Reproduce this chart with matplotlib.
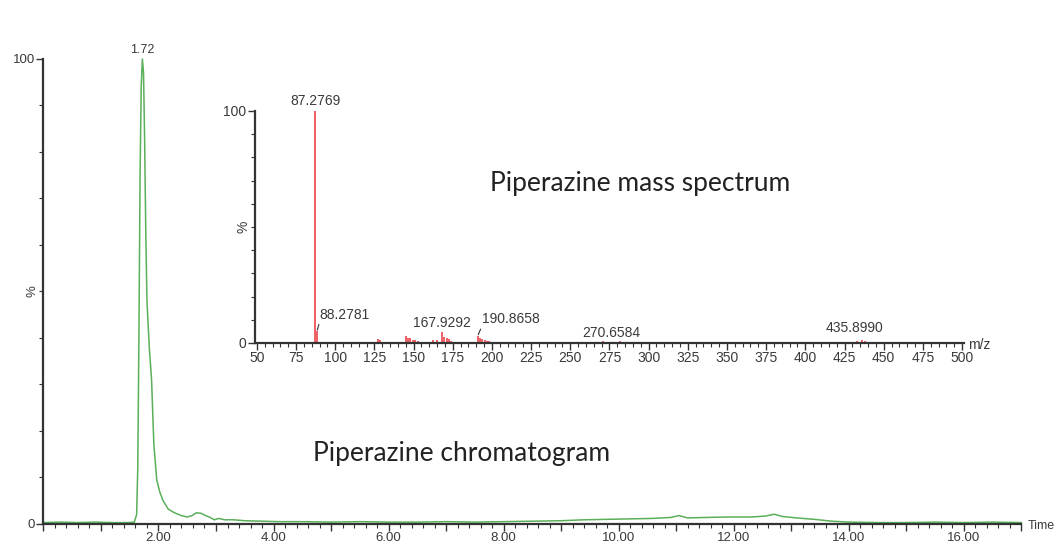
import matplotlib.pyplot as plt
from matplotlib.ticker import MultipleLocator, FuncFormatter

# chromatogram: retention time (min) vs relative intensity (%)
rt = [0.00, 0.30, 0.60, 0.90, 1.20, 1.45, 1.58, 1.62, 1.64, 1.66, 1.68, 1.70,
      1.72, 1.74, 1.76, 1.78, 1.80, 1.84, 1.88, 1.92, 1.97, 2.02, 2.08, 2.17,
      2.28, 2.40, 2.50, 2.58, 2.66, 2.74, 2.82, 2.90, 2.97, 3.05, 3.15, 3.30,
      3.50, 3.80, 4.10, 4.50, 5.00, 5.50, 6.00, 6.50, 7.00, 7.50, 8.00, 8.50,
      9.00, 9.40, 9.80, 10.20, 10.60, 10.90, 11.05, 11.20, 11.50, 11.90, 12.30,
      12.55, 12.70, 12.85, 13.10, 13.40, 13.70, 14.00, 14.50, 15.00, 15.50,
      16.00, 16.50, 17.00]
intensity = [0.3, 0.4, 0.3, 0.4, 0.3, 0.3, 0.4, 2.0, 12.0, 40.0, 75.0, 94.0,
             100.0, 97.0, 82.0, 62.0, 48.0, 38.0, 31.0, 17.0, 9.5, 7.0, 5.0, 3.2,
             2.4, 1.8, 1.5, 1.8, 2.4, 2.3, 1.8, 1.4, 0.9, 1.2, 0.9, 0.9,
             0.7, 0.6, 0.5, 0.5, 0.4, 0.5, 0.4, 0.4, 0.5, 0.4, 0.5, 0.6,
             0.7, 0.9, 1.0, 1.1, 1.2, 1.4, 1.8, 1.3, 1.4, 1.5, 1.5,
             1.7, 2.1, 1.6, 1.3, 1.0, 0.6, 0.4, 0.3, 0.3, 0.4,
             0.3, 0.4, 0.3]

# mass spectrum: m/z vs relative abundance (%)
mz = [87.2769, 88.2781, 127.0, 128.5, 130.0, 144.9, 146.5, 148.0, 149.5, 151.0,
      152.5, 162.3, 164.7, 167.9292, 169.5, 171.0, 172.5, 174.0, 190.8658,
      192.3, 193.8, 195.3, 196.8, 198.3, 270.6584, 273.0, 278.0, 281.5,
      425.2, 428.5, 433.0, 435.8990, 438.0, 440.5]
abund = [100.0, 5.0, 1.6, 1.1, 0.6, 2.8, 2.2, 2.0, 1.5, 1.2,
         0.8, 1.3, 1.5, 4.9, 2.5, 2.2, 1.8, 1.0, 3.0,
         2.2, 1.8, 1.5, 1.0, 0.7, 0.9, 0.6, 0.4, 0.8,
         0.5, 0.4, 0.8, 1.2, 0.7, 0.5]
labelled = ['87.2769', '88.2781', '167.9292', '190.8658', '270.6584', '435.8990']

green = '#5aaf5a'
red = '#e8343a'
axcol = '#333333'
txtcol = '#3a3a3a'
sans = 'Liberation Sans'

fig = plt.figure(figsize=(10.59, 5.44), dpi=100)

# ---- chromatogram ----
ax = fig.add_axes([0.041, 0.0368, 0.9235, 0.8548])
ax.plot(rt, intensity, color=green, lw=1.1, clip_on=False)
ax.set_xlim(0, 17.0)
ax.set_ylim(0, 100)
for s in ['top', 'right']:
    ax.spines[s].set_visible(False)
for s in ['left', 'bottom']:
    ax.spines[s].set_color(axcol)
    ax.spines[s].set_linewidth(1.6)
ax.xaxis.set_major_locator(MultipleLocator(1))
ax.xaxis.set_minor_locator(MultipleLocator(0.2))
ax.xaxis.set_major_formatter(FuncFormatter(
    lambda v, p: '%.2f' % v if (round(v) % 2 == 0 and v > 0) else ''))
ax.set_yticks([0, 100])
ax.yaxis.set_minor_locator(MultipleLocator(10))
ax.tick_params(axis='both', which='major', length=5, width=1, color=axcol,
               labelsize=9.5, labelcolor=txtcol, pad=1)
ax.tick_params(axis='both', which='minor', length=3, width=0.8, color=axcol)
for lab in ax.get_xticklabels() + ax.get_yticklabels():
    lab.set_fontfamily(sans)
ax.annotate('1.72', xy=(rt[intensity.index(max(intensity))], 100),
            xytext=(0, 2), textcoords='offset points', ha='center', va='bottom',
            fontsize=9, color=txtcol, family=sans)
fig.text(32 / 1059, 1 - 291 / 544, '%', rotation=90, ha='center', va='center',
         fontsize=9.5, color=txtcol, family=sans)
fig.text(1028 / 1059, 1 - 526 / 544, 'Time', ha='left', va='center',
         fontsize=9, color=txtcol, family=sans)
fig.text(313 / 1059, 1 - 453 / 544, 'Piperazine chromatogram', ha='left',
         va='center', fontsize=19, color='#222222', family='Lato')

# ---- mass spectrum inset ----
ins = fig.add_axes([0.2404, 0.3695, 0.6695, 0.4265])
ins.patch.set_alpha(0)
ins.vlines(mz, 0, abund, color=red, lw=1.1)
ins.set_xlim(48.5, 501)
ins.set_ylim(0, 100)
for s in ['top', 'right']:
    ins.spines[s].set_visible(False)
for s in ['left', 'bottom']:
    ins.spines[s].set_color(axcol)
    ins.spines[s].set_linewidth(1.6)
ins.xaxis.set_minor_locator(MultipleLocator(5))
ins.set_xticks(range(50, 501, 25))
ins.set_yticks([0, 100])
ins.yaxis.set_minor_locator(MultipleLocator(10))
ins.tick_params(axis='both', which='major', length=5, width=1, color=axcol,
                labelsize=10, labelcolor=txtcol, pad=1)
ins.tick_params(axis='both', which='minor', length=3, width=0.8, color=axcol)
for lab in ins.get_xticklabels() + ins.get_yticklabels():
    lab.set_fontfamily(sans)

# peak labels (offsets in points)
offsets = {'87.2769': (0, 2, 'center', None),
           '88.2781': (2, 7, 'left', (0, 0)),
           '167.9292': (0, 1, 'center', None),
           '190.8658': (3, 7, 'left', (0, 0)),
           '270.6584': (6, 1, 'center', None),
           '435.8990': (-5, 4, 'center', None)}
for lab in labelled:
    i = mz.index(float(lab))
    dx, dy, ha, rel = offsets[lab]
    kw = {}
    if rel is not None:
        kw['arrowprops'] = dict(arrowstyle='-', color=axcol, lw=0.8,
                                shrinkA=0, shrinkB=1, relpos=rel)
    ins.annotate(lab, xy=(mz[i], abund[i]), xytext=(dx, dy),
                 textcoords='offset points', ha=ha, va='bottom',
                 fontsize=10, color=txtcol, family=sans, **kw)

fig.text(243 / 1059, 1 - 227 / 544, '%', rotation=90, ha='center', va='center',
         fontsize=10, color=txtcol, family=sans)
fig.text(968 / 1059, 1 - 345 / 544, 'm/z', ha='left', va='center',
         fontsize=10, color=txtcol, family=sans)
fig.text(490 / 1059, 1 - 183 / 544, 'Piperazine mass spectrum', ha='left',
         va='center', fontsize=19, color='#222222', family='Lato')

fig.savefig('out.png', dpi=100)
